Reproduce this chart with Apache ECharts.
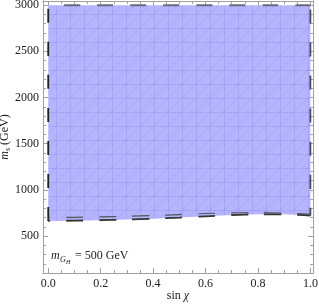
<!DOCTYPE html>
<html><head><meta charset="utf-8">
<script src="https://cdn.jsdelivr.net/npm/echarts@6/dist/echarts.min.js"></script>
<style>html,body{margin:0;padding:0;background:#fff}#c{width:319px;height:305px}</style>
</head><body><div id="c"></div>
<script>
const sinChi = [0, 0.1, 0.2, 0.3, 0.4, 0.5, 0.6, 0.7, 0.8, 0.9, 1.0];
const mLower = [664, 667, 672, 679, 688, 700, 714, 727, 735, 735, 722];
const mUpper = [700, 703, 708, 714, 722, 733, 744, 751, 753, 749, 738];
const mTop = 3000;
const xMajor = [0, 0.2, 0.4, 0.6, 0.8, 1.0];
const xMinor = [0.05, 0.1, 0.15, 0.25, 0.3, 0.35, 0.45, 0.5, 0.55, 0.65, 0.7, 0.75, 0.85, 0.9, 0.95];
const yMajor = [500, 1000, 1500, 2000, 2500, 3000];
const yMinor = [100, 200, 300, 400, 600, 700, 800, 900, 1100, 1200, 1300, 1400, 1600, 1700, 1800, 1900, 2100, 2200, 2300, 2400, 2600, 2700, 2800, 2900];

const SERIF = '"Liberation Serif", "DejaVu Serif", serif';

// mesh-like fill pattern
const pc = document.createElement('canvas');
pc.width = 14; pc.height = 14;
const g = pc.getContext('2d');
g.fillStyle = '#b5b5fd'; g.fillRect(0, 0, 14, 14);
g.strokeStyle = 'rgba(130,130,240,0.28)'; g.lineWidth = 1;
g.beginPath();
g.moveTo(0.5, 0); g.lineTo(0.5, 14);
g.moveTo(0, 0.5); g.lineTo(14, 0.5);
g.moveTo(0, 14); g.lineTo(14, 0);
g.stroke();

const chart = echarts.init(document.getElementById('c'), null, {renderer: 'canvas'});
const axisColor = '#a0a0a0';
const XMIN = -0.02, XMAX = 1.01, YMIN = 100, YMAX = 3045;

function xAxisDef(pos, vals, len, labels) {
  return {
    type: 'value', position: pos, min: XMIN, max: XMAX,
    axisLine: {show: true, onZero: false, lineStyle: {color: axisColor, width: 1}},
    axisTick: {show: true, inside: true, length: len, customValues: vals, lineStyle: {color: axisColor}},
    axisLabel: labels ? {show: true, customValues: xMajor, margin: 5, color: '#222', fontFamily: SERIF, fontSize: 12,
      formatter: v => v.toFixed(1)} : {show: false},
    splitLine: {show: false}
  };
}
function yAxisDef(pos, vals, len, labels) {
  return {
    type: 'value', position: pos, min: YMIN, max: YMAX,
    axisLine: {show: true, onZero: false, lineStyle: {color: axisColor, width: 1}},
    axisTick: {show: true, inside: true, length: len, customValues: vals, lineStyle: {color: axisColor}},
    axisLabel: labels ? {show: true, customValues: yMajor, margin: 4, color: '#222', fontFamily: SERIF, fontSize: 12,
      formatter: v => String(v)} : {show: false},
    splitLine: {show: false}
  };
}

const xAxes = [
  Object.assign(xAxisDef('bottom', xMajor, 5, true), {
    name: '{r|sin }{i|χ}', nameLocation: 'middle', nameGap: 17, nameMoveOverlap: false,
    nameTextStyle: {rich: {r: {fontFamily: SERIF, fontSize: 12, color: '#222'}, i: {fontFamily: SERIF, fontStyle: 'italic', fontSize: 12, color: '#222'}}}
  }),
  xAxisDef('bottom', xMinor, 3, false),
  xAxisDef('top', xMajor, 5, false),
  xAxisDef('top', xMinor, 3, false)
];
const yAxes = [
  Object.assign(yAxisDef('left', yMajor, 5, true), {
    name: '{i|m}{s|s}{r| (GeV)}', nameLocation: 'middle', nameGap: 31, nameMoveOverlap: false,
    nameTextStyle: {rich: {
      i: {fontFamily: SERIF, fontStyle: 'italic', fontSize: 12, color: '#222', lineHeight: 14},
      s: {fontFamily: SERIF, fontStyle: 'italic', fontSize: 8, color: '#222', lineHeight: 14, padding: [5, 0, 0, 0]},
      r: {fontFamily: SERIF, fontSize: 12, color: '#222', lineHeight: 14}}}
  }),
  yAxisDef('left', yMinor, 3, false),
  yAxisDef('right', yMajor, 5, false),
  yAxisDef('right', yMinor, 3, false)
];

const lowerPts = sinChi.map((x, i) => [x, mLower[i]]);
const upperPts = sinChi.map((x, i) => [x, mUpper[i]]);
const last = sinChi.length - 1;

function dashLine(data, color, width, dash, off, z) {
  return {type: 'line', xAxisIndex: 0, yAxisIndex: 0, data: data, showSymbol: false, symbol: 'none',
    smooth: 0.3, lineStyle: {color: color, width: width, type: dash, dashOffset: off}, z: z, silent: true};
}

chart.setOption({
  animation: false,
  grid: {left: 43, right: 6, top: 1, bottom: 32, containLabel: false, outerBoundsMode: 'none'},
  xAxis: xAxes,
  yAxis: yAxes,
  graphic: [
    {type: 'text', left: 51, top: 250, style: {text: 'm', fontFamily: SERIF, fontStyle: 'italic', fontSize: 12, fill: '#222'}},
    {type: 'text', left: 60, top: 256, style: {text: 'G', fontFamily: SERIF, fontStyle: 'italic', fontSize: 8, fill: '#222'}},
    {type: 'text', left: 66, top: 259, style: {text: 'H', fontFamily: SERIF, fontStyle: 'italic', fontSize: 6, fill: '#222'}},
    {type: 'text', left: 75, top: 250, style: {text: '= 500 GeV', fontFamily: SERIF, fontSize: 12, fill: '#222'}}
  ],
  series: [
    {
      type: 'custom', xAxisIndex: 0, yAxisIndex: 0, data: [[0, mTop]], silent: true, z: 1,
      renderItem: function (params, api) {
        const pts = [];
        for (let i = 0; i < sinChi.length; i++) pts.push(api.coord([sinChi[i], mTop]));
        for (let i = sinChi.length - 1; i >= 0; i--) pts.push(api.coord([sinChi[i], mLower[i]]));
        return {type: 'polygon', shape: {points: pts, smooth: 0}, style: {fill: {image: pc, repeat: 'repeat'}}};
      }
    },
    dashLine([[0, mLower[0]], [0, mTop]], '#222', 1.8, [14, 19], 0, 5),
    dashLine([[1, mLower[last]], [1, mTop]], '#4a4a5a', 1.8, [14, 19], 6, 5),
    dashLine([[0, mTop], [1, mTop]], '#6a6a7e', 2, [16, 17], 17, 5),
    dashLine(lowerPts, '#333', 1.8, [17, 16], 15, 5),
    dashLine(upperPts, '#555', 1.2, [17, 16], 15, 5)
  ]
});
</script></body></html>
